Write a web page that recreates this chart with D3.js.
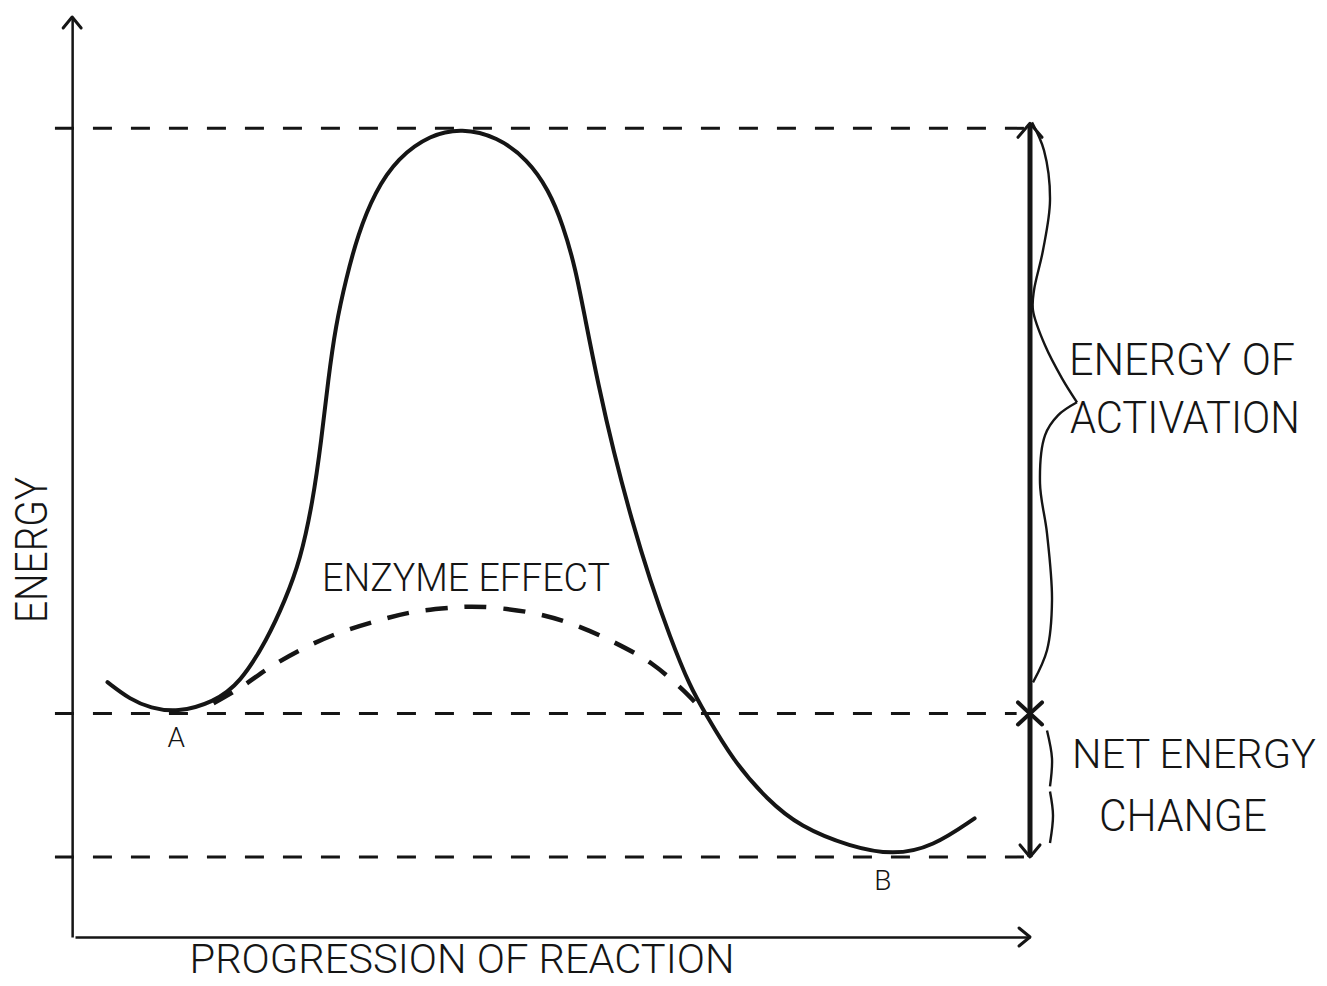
<!DOCTYPE html>
<html>
<head>
<meta charset="utf-8">
<script src="https://cdn.jsdelivr.net/npm/d3@7"></script>
<style>
  body { margin: 0; background: #fff; }
  text { font-family: Roboto, "DejaVu Sans", sans-serif; font-weight: 300; fill: #151515; }
</style>
</head>
<body>
<div id="chart"></div>
<script>
// reaction progress (0-100) and energy (0-100)
const pathX = [3.4, 5.8, 7.9, 10.7, 14.5, 17.3, 20.1, 22.0, 23.6, 24.9, 25.8, 26.5, 27.3, 28.4, 29.6, 31.4, 33.8, 37.2, 40.5,
               44.2, 47.4, 49.6, 51.1, 52.4, 53.4, 54.8, 56.4, 58.3, 60.2, 62.3, 64.4, 66.0, 68.9, 72.5, 75.9, 81.2, 85.7, 89.8, 94.2]
const pathE = [27.7, 25.8, 24.9, 24.4, 25.5, 27.6, 32.3, 36.6, 41.0, 47.3, 54.0, 60.5, 66.5, 71.6, 76.3, 81.0, 84.7, 87.2, 87.9,
               87.0, 84.5, 81.2, 77.4, 72.7, 67.3, 60.0, 52.7, 45.3, 38.8, 32.6, 27.2, 24.3, 19.2, 14.9, 12.0, 9.8, 8.9, 9.8, 12.9]

const enzymeX = [14.5, 17.3, 20.4, 23.6, 27.0, 31.1, 35.3, 39.5, 41.4, 43.8, 48.0, 52.1, 56.5, 60.4, 63.7, 66.0]
const enzymeE = [25.4, 27.1, 29.3, 31.2, 32.8, 34.2, 35.3, 35.8, 35.9, 35.8, 35.2, 34.0, 32.0, 29.7, 26.8, 24.3]

const levelNames = ['peak', 'A', 'B']
const levelE = [87.9, 24.3, 8.7]

const pointLabels = ['A', 'B']
const pointX = [10.6, 84.6]

const width = 1327
const height = 986

const xScale = d3.scaleLinear().domain([0, 100]).range([75, 1030])
const yScale = d3.scaleLinear().domain([0, 100]).range([937, 17])

let svg = d3.select('#chart')
    .append('svg')
    .attr('width', width)
    .attr('height', height)

const ink = '#151515'

// axes (no ticks, just the lines)
svg.append('g')
    .attr('transform', `translate(0,${yScale(0)})`)
    .call(d3.axisBottom(xScale).ticks(0).tickSizeOuter(0))
    .call(g => g.select('.domain').attr('stroke', ink).attr('stroke-width', 2.5))

svg.append('g')
    .attr('transform', `translate(${xScale(-0.3)},0)`)
    .call(d3.axisLeft(yScale).ticks(0).tickSizeOuter(0))
    .call(g => g.select('.domain').attr('stroke', ink).attr('stroke-width', 2.5))

function chevron(x, y, dx, dy, w) {
    svg.append('path')
        .attr('d', `M${x + dx + (dy ? -w : 0)},${y + dy + (dx ? -w : 0)} L${x},${y} L${x + dx + (dy ? w : 0)},${y + dy + (dx ? w : 0)}`)
        .attr('fill', 'none')
        .attr('stroke', ink)
        .attr('stroke-width', 3)
        .attr('stroke-linecap', 'round')
        .attr('stroke-linejoin', 'round')
}

chevron(xScale(-0.3), yScale(100), 0, 11, 9)
chevron(xScale(100), yScale(0), -11, 0, 9)

// horizontal dashed energy levels
svg.selectAll('.level')
    .data(levelE)
    .enter()
    .append('line')
    .attr('class', 'level')
    .attr('x1', xScale(-2.1))
    .attr('x2', (d, i) => xScale(i === 1 ? 98.6 : 99.4))
    .attr('y1', d => yScale(d))
    .attr('y2', d => yScale(d))
    .attr('stroke', ink)
    .attr('stroke-width', 3)
    .attr('stroke-dasharray', '19,19')

// reaction curve (basis spline keeps the hand-drawn flanks smooth)
const mainLine = d3.line()
    .x(d => xScale(d[0]))
    .y(d => yScale(d[1]))
    .curve(d3.curveBasis)

const line = d3.line()
    .x(d => xScale(d[0]))
    .y(d => yScale(d[1]))
    .curve(d3.curveCatmullRom.alpha(0.5))

svg.append('path')
    .datum(pathX.map((x, i) => [x, pathE[i]]))
    .attr('d', mainLine)
    .attr('fill', 'none')
    .attr('stroke', ink)
    .attr('stroke-width', 4)
    .attr('stroke-linecap', 'round')

svg.append('path')
    .datum(enzymeX.map((x, i) => [x, enzymeE[i]]))
    .attr('d', line)
    .attr('fill', 'none')
    .attr('stroke', ink)
    .attr('stroke-width', 4.5)
    .attr('stroke-dasharray', '22,17')

// vertical double arrow on the right
const ax = xScale(100)
svg.append('line')
    .attr('x1', ax).attr('x2', ax)
    .attr('y1', yScale(levelE[0]) - 4)
    .attr('y2', yScale(levelE[2]))
    .attr('stroke', ink)
    .attr('stroke-width', 5)
chevron(ax, yScale(levelE[0]) - 5, 0, 14, 12)
chevron(ax, yScale(levelE[2]), 0, -12, 10)

// cross at the level of A
const cy = yScale(levelE[1])
svg.append('path')
    .attr('d', `M${ax - 12},${cy - 11} L${ax + 12},${cy + 11} M${ax - 12},${cy + 11} L${ax + 12},${cy - 11}`)
    .attr('stroke', ink)
    .attr('stroke-width', 4)
    .attr('stroke-linecap', 'round')

// braces
const brace = d3.line().curve(d3.curveCatmullRom.alpha(0.5))
const topY = yScale(levelE[0])
const midY = yScale(levelE[1])
const botY = yScale(levelE[2])

svg.append('path')
    .attr('d', brace([[ax + 2, topY - 6], [ax + 14, topY + 22], [ax + 20, topY + 72], [ax + 13, topY + 122],
                      [ax + 4, topY + 162], [ax + 3, topY + 182], [ax + 15, topY + 217], [ax + 32, topY + 250], [ax + 47, topY + 274]]))
    .attr('fill', 'none').attr('stroke', ink).attr('stroke-width', 2.4)

svg.append('path')
    .attr('d', brace([[ax + 47, topY + 274], [ax + 28, topY + 287], [ax + 15, topY + 307], [ax + 10, topY + 355],
                      [ax + 17, topY + 405], [ax + 22, topY + 472], [ax + 17, topY + 522], [ax + 3, midY - 31]]))
    .attr('fill', 'none').attr('stroke', ink).attr('stroke-width', 2.4)

svg.append('path')
    .attr('d', brace([[ax + 17, midY + 17], [ax + 22, midY + 45], [ax + 20, midY + 73]]))
    .attr('fill', 'none').attr('stroke', ink).attr('stroke-width', 2.4)

svg.append('path')
    .attr('d', brace([[ax + 20, midY + 78], [ax + 23, midY + 102], [ax + 20, botY - 14]]))
    .attr('fill', 'none').attr('stroke', ink).attr('stroke-width', 2.4)

// labels
function label(txt, x, y, size, len, rot) {
    let t = svg.append('text')
        .attr('text-anchor', 'middle')
        .attr('font-size', size)
        .text(txt)
    if (len) t.attr('textLength', len).attr('lengthAdjust', 'spacingAndGlyphs')
    if (rot) t.attr('transform', `translate(${x},${y}) rotate(${rot})`)
    else t.attr('x', x).attr('y', y)
    return t
}

label('ENERGY', 47, 550, 45, 146, -90)
label('PROGRESSION  OF  REACTION', 462, 973, 40, 545)
label('ENZYME  EFFECT', 466, 591, 38, 288)

svg.selectAll('.pt')
    .data(pointLabels)
    .enter()
    .append('text')
    .attr('class', 'pt')
    .attr('text-anchor', 'middle')
    .attr('font-size', 28)
    .attr('x', (d, i) => xScale(pointX[i]))
    .attr('y', (d, i) => yScale(levelE[i + 1]) + (i === 0 ? 34 : 33))
    .text(d => d)

label('ENERGY  OF', 1182, 375, 45, 226)
label('ACTIVATION', 1185, 433, 45, 230)
label('NET ENERGY', 1194, 768, 41, 244)
label('CHANGE', 1183, 831, 45, 168)
</script>
</body>
</html>
